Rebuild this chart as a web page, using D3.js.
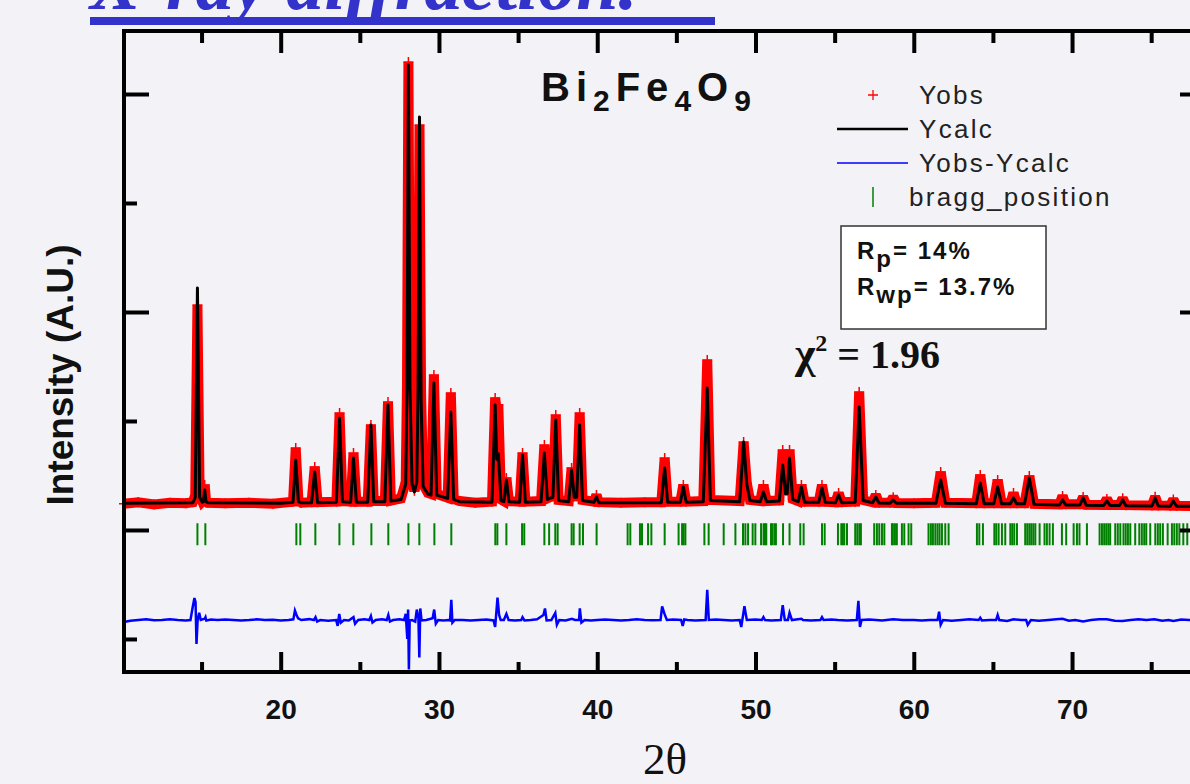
<!DOCTYPE html>
<html>
<head>
<meta charset="utf-8">
<script src="https://cdn.jsdelivr.net/npm/d3@7"></script>
<style>
  body { margin: 0; background: #f3f3f7; }
  svg { display: block; }
</style>
</head>
<body>
<div id="chart"></div>
<script>
// Bi2Fe4O9 Rietveld refinement
// intensities in counts, 2theta in degrees

const xMajorTicks = [20, 30, 40, 50, 60, 70];
const xMinorTicks = [15, 25, 35, 45, 55, 65, 75];
const yMajorTicks = [0, 2000, 4000];
const yMinorTicks = [-1000, 1000, 3000];

// observed profile (2theta, counts)
const yobs = [
  [10.1,240],[11,255],[12,235],[13,250],[14.0,245],[14.45,255],[14.6,320],[14.74,2064],[14.88,320],[15.05,260],[15.12,270],[15.2,413],[15.28,270],[15.4,250],
  [16.5,245],[18,250],[19.5,240],[20.78,260],[20.95,752],[21.12,270],[21.3,250],
  [21.95,255],[22.15,578],[22.33,255],
  [23.52,260],[23.72,1073],[23.9,265],
  [24.42,260],[24.6,706],[24.78,260],
  [25.5,260],[25.7,963],[25.88,265],
  [26.58,265],[26.78,1174],[26.96,270],
  [27.6,290],[27.9,440],[27.98,1350],[28.07,4294],[28.17,1350],[28.3,440],[28.45,360],[28.6,450],[28.68,1300],[28.77,3716],[28.87,1250],[29.0,420],[29.3,340],
  [29.5,330],[29.68,1422],[29.86,330],
  [30.55,295],[30.75,1257],[30.93,285],
  [31.3,265],[32.3,250],[33.35,260],[33.55,1211],[33.65,1100],[33.75,1150],[33.92,280],
  [34.1,265],[34.26,477],[34.42,265],
  [35.1,260],[35.28,706],[35.46,260],
  [36.45,265],[36.66,780],[36.85,290],[37.0,300],[37.2,310],[37.38,1055],[37.56,275],
  [38.2,265],[38.38,569],[38.55,310],[38.7,310],[38.89,1073],[39.07,275],
  [39.8,260],[39.95,321],[40.1,255],[41.5,250],[43,255],
  [44.05,255],[44.26,660],[44.45,260],
  [45.25,260],[45.44,413],[45.62,260],
  [46.7,265],[46.95,1560],[47.15,275],
  [49.0,265],[49.25,807],[49.45,430],[49.65,275],
  [50.3,265],[50.5,413],[50.7,265],
  [51.5,270],[51.72,734],[51.9,400],[52.0,400],[52.15,734],[52.35,285],
  [52.7,265],[52.9,413],[53.1,260],
  [54.0,260],[54.2,413],[54.4,260],
  [55.05,255],[55.25,339],[55.45,255],
  [56.3,260],[56.55,1266],[56.8,275],
  [57.4,255],[57.6,321],[57.8,250],
  [58.5,250],[58.7,300],[58.9,248],
  [60,245],[61.4,250],[61.7,532],[62.0,250],
  [63.95,245],[64.2,505],[64.45,245],
  [65.05,245],[65.3,459],[65.55,245],
  [66.1,245],[66.3,339],[66.5,245],
  [67.0,245],[67.3,495],[67.6,240],
  [69.2,235],[69.4,312],[69.6,235],
  [70.5,235],[70.7,303],[70.9,232],
  [72.0,230],[72.2,285],[72.4,230],
  [73.0,230],[73.2,290],[73.4,228],
  [75.05,225],[75.25,305],[75.45,225],
  [76.2,222],[76.4,280],[76.6,222],
  [78.4,220]
];

// calculated profile
const ycalc = [
  [10.1,245],[14.45,250],[14.6,300],[14.74,2220],[14.88,300],[15.05,255],[15.12,260],[15.2,367],[15.28,260],[15.4,250],
  [20.0,245],[20.78,255],[20.95,642],[21.12,260],[21.3,250],
  [21.95,250],[22.15,532],[22.33,250],
  [23.52,255],[23.72,1028],[23.9,260],
  [24.42,255],[24.6,660],[24.78,255],
  [25.5,255],[25.7,963],[25.88,260],
  [26.58,260],[26.78,1147],[26.96,265],
  [27.6,280],[27.9,420],[27.98,1300],[28.07,4266],[28.17,1300],[28.3,420],[28.45,349],[28.6,440],[28.68,1300],[28.77,3789],[28.87,1200],[29.0,400],[29.3,330],
  [29.5,320],[29.68,1349],[29.86,320],
  [30.55,290],[30.75,1083],[30.93,280],
  [31.3,260],[33.35,255],[33.55,1147],[33.65,650],[33.75,700],[33.92,270],
  [34.1,260],[34.26,459],[34.42,260],
  [35.1,255],[35.28,688],[35.46,255],
  [36.45,260],[36.66,706],[36.85,280],[37.0,290],[37.2,300],[37.38,1009],[37.56,270],
  [38.2,260],[38.38,550],[38.55,300],[38.7,300],[38.89,963],[39.07,270],
  [39.8,255],[39.95,303],[40.1,250],
  [44.05,250],[44.26,569],[44.45,255],
  [45.25,255],[45.44,394],[45.62,255],
  [46.7,260],[46.95,1303],[47.15,270],
  [49.0,260],[49.25,807],[49.45,420],[49.65,270],
  [50.3,260],[50.5,349],[50.7,260],
  [51.5,265],[51.72,596],[51.9,330],[52.0,330],[52.15,660],[52.35,280],
  [52.7,260],[52.9,394],[53.1,255],
  [54.0,255],[54.2,385],[54.4,255],
  [55.05,250],[55.25,321],[55.45,250],
  [56.3,255],[56.55,1128],[56.8,270],
  [57.4,250],[57.6,303],[57.8,248],
  [58.5,245],[58.7,275],[58.9,245],
  [61.4,245],[61.7,459],[62.0,245],
  [63.95,240],[64.2,431],[64.45,240],
  [65.05,240],[65.3,394],[65.55,240],
  [66.1,240],[66.3,294],[66.5,240],
  [67.0,240],[67.3,477],[67.6,235],
  [69.2,230],[69.4,275],[69.6,230],
  [70.5,230],[70.7,294],[70.9,228],
  [72.0,225],[72.2,266],[72.4,225],
  [73.0,225],[73.2,275],[73.4,222],
  [75.05,220],[75.25,294],[75.45,220],
  [76.2,218],[76.4,266],[76.6,218],
  [78.4,215]
];

// difference curve, plotted with its offset
const ydiff = [
  [10.1,-845],[10.5,-832],[11,-826],[11.5,-820],[12,-828],[12.5,-826],[13,-818],[13.5,-826],[14.0,-830],[14.3,-826],
  [14.45,-700],[14.55,-625],[14.62,-660],[14.68,-1045],[14.75,-830],[14.85,-760],[14.95,-826],[15.2,-815],[15.25,-800],[15.3,-830],
  [15.6,-822],[16,-826],[16.5,-822],[17,-826],[17.5,-830],[18,-826],[18.5,-820],[19,-826],[19.5,-824],[20,-830],[20.5,-826],
  [20.8,-820],[20.9,-740],[21.0,-780],[21.1,-810],[21.3,-826],[21.8,-818],[22.1,-826],[22.2,-800],[22.3,-840],[22.5,-826],
  [23.0,-832],[23.5,-826],[23.6,-880],[23.7,-770],[23.8,-850],[24.0,-826],[24.3,-830],[24.6,-800],[24.7,-860],[24.9,-826],
  [25.3,-820],[25.6,-826],[25.7,-790],[25.8,-850],[26.0,-826],[26.4,-820],[26.7,-826],[26.8,-780],[26.9,-840],[27.1,-826],
  [27.5,-820],[27.8,-826],[27.9,-770],[28.0,-1000],[28.05,-730],[28.1,-1280],[28.15,-830],[28.3,-826],[28.5,-840],[28.6,-730],
  [28.7,-800],[28.76,-1170],[28.82,-720],[28.9,-830],[29.2,-826],[29.6,-810],[29.7,-730],[29.8,-860],[29.95,-826],[30.3,-830],
  [30.6,-826],[30.7,-830],[30.78,-640],[30.85,-850],[31.0,-826],[31.5,-826],[32,-830],[32.5,-826],[33,-822],[33.45,-830],
  [33.55,-890],[33.7,-620],[33.8,-780],[33.9,-826],[34.1,-826],[34.26,-770],[34.4,-826],[34.8,-830],[35.2,-826],[35.28,-800],
  [35.4,-830],[35.8,-826],[36.2,-820],[36.6,-780],[36.7,-720],[36.8,-830],[37.1,-826],[37.35,-760],[37.45,-870],[37.6,-826],
  [38.0,-830],[38.4,-815],[38.6,-826],[38.85,-826],[38.9,-720],[39.0,-850],[39.2,-826],[39.6,-830],[40,-826],[40.5,-822],
  [41,-826],[41.5,-830],[42,-826],[42.5,-820],[43,-826],[43.5,-828],[44.0,-826],[44.1,-700],[44.25,-770],[44.4,-826],
  [44.8,-822],[45.3,-826],[45.4,-880],[45.5,-820],[45.7,-826],[46.2,-830],[46.85,-826],[46.95,-550],[47.05,-826],[47.5,-822],
  [48,-826],[48.5,-830],[49.0,-826],[49.1,-890],[49.3,-700],[49.45,-826],[50.0,-822],[50.4,-826],[50.5,-800],[50.6,-826],
  [51.0,-830],[51.6,-826],[51.72,-690],[51.85,-826],[52.05,-826],[52.15,-760],[52.3,-826],[52.9,-815],[53.0,-826],[53.5,-830],
  [54.1,-826],[54.2,-800],[54.3,-826],[54.8,-822],[55.2,-826],[55.8,-830],[56.4,-826],[56.5,-650],[56.6,-890],[56.7,-826],
  [57.2,-822],[57.6,-826],[58,-830],[58.7,-820],[59.3,-826],[60,-826],[60.5,-830],[61.0,-826],[61.5,-826],[61.6,-750],
  [61.7,-870],[61.85,-826],[62.4,-832],[63,-826],[63.5,-820],[64.1,-826],[64.2,-805],[64.3,-830],[64.8,-826],[65.2,-826],
  [65.3,-780],[65.4,-826],[65.9,-834],[66.3,-820],[66.8,-826],[67.1,-826],[67.2,-870],[67.4,-826],[67.9,-832],[68.5,-826],
  [69.0,-820],[69.4,-815],[69.8,-832],[70.2,-826],[70.7,-840],[71.2,-826],[71.7,-818],[72.2,-820],[72.7,-832],[73.2,-835],
  [73.7,-826],[74.2,-820],[74.7,-826],[75.2,-820],[75.7,-832],[76.1,-826],[76.4,-835],[76.9,-822],[77.4,-826],[78.0,-830],[78.4,-826]
];

// bragg reflections (2theta)
const braggPos = [14.74, 15.24, 20.99, 21.24, 22.19, 23.71, 24.59, 25.73, 26.80, 28.07, 28.76, 29.71, 30.78,
  33.56, 33.69, 34.26, 35.25, 35.39, 36.66, 36.96, 37.35, 37.50, 38.38, 38.51, 38.89, 39.10, 39.96,
  41.92, 42.09, 42.70, 42.83, 43.21, 43.42, 44.26, 45.14, 45.36, 45.46, 45.57, 46.77, 47.04, 47.99,
  48.73, 49.21, 49.36, 49.53, 49.82, 49.99, 50.35, 50.51, 50.60, 50.68, 50.98, 51.06, 51.19, 51.29,
  51.74, 52.15, 52.83, 53.04, 54.20, 54.37, 55.21, 55.42, 55.52, 55.61, 55.78, 56.30, 56.43, 56.56,
  56.66, 57.50, 57.67, 57.82, 57.99, 58.14, 58.62, 58.68, 58.81, 58.93, 59.25, 59.40, 59.67, 59.84,
  60.93, 61.08, 61.21, 61.36, 61.50, 61.63, 61.78, 61.99, 62.20, 63.99, 64.14, 64.37, 65.09, 65.21,
  65.36, 65.57, 65.78, 66.10, 66.22, 66.35, 66.52, 67.04, 67.17, 67.30, 67.42, 67.55, 67.68, 67.95,
  68.26, 68.41, 68.58, 68.79, 69.36, 69.63, 70.10, 70.31, 70.47, 70.94, 71.74, 71.89, 72.03, 72.16,
  72.29, 72.41, 72.73, 72.89, 73.05, 73.25, 73.39, 73.53, 73.68, 73.99, 74.25, 74.41, 74.56, 74.69,
  74.94, 75.26, 75.42, 75.57, 75.74, 76.04, 76.31, 76.46, 76.62, 76.78, 77.03, 77.28, 77.55, 77.80, 78.10];

const braggLevel = -30;   // row of the reflection markers
const legendLabels = ['Yobs', 'Ycalc', 'Yobs-Ycalc', 'bragg_position'];
const fitLabels = [['R', 'p', '= 14%'], ['R', 'wp', '= 13.7%']];
const chiSquared = '1.96';

const width = 1190, height = 784;
const frame = { left: 124, right: 1205, top: 31, bottom: 672 };

const svg = d3.select('#chart').append('svg')
    .attr('width', width)
    .attr('height', height);

svg.append('rect').attr('width', width).attr('height', height).attr('fill', '#f3f3f7');

const x = d3.scaleLinear().domain([10.1, 78.4]).range([frame.left, frame.right]);
const y = d3.scaleLinear().domain([-1303, 4578]).range([frame.bottom, frame.top]);

// slide title, cut by the top edge as on the slide
svg.append('text')
    .attr('x', 90).attr('y', 9)
    .attr('font-family', '"Liberation Serif", "DejaVu Serif", serif')
    .attr('font-weight', 'bold').attr('font-style', 'italic')
    .attr('font-size', 76).attr('fill', '#3333cc')
    .text('X-ray diffraction.');
svg.append('rect').attr('x', 90).attr('y', 17).attr('width', 625).attr('height', 8).attr('fill', '#3333cc');

// curves
const line = d3.line().x(d => x(d[0])).y(d => y(d[1]));

svg.append('path').datum(yobs)
    .attr('fill', 'none').attr('stroke', '#ff0000')
    .attr('stroke-width', 10).attr('stroke-linejoin', 'miter').attr('stroke-miterlimit', 2)
    .attr('d', line);

svg.append('g').selectAll('path')
    .data(yobs)
    .join('path')
    .attr('transform', d => `translate(${x(d[0])},${y(d[1])})`)
    .attr('d', 'M-5,0H5M0,-5V5')
    .attr('stroke', '#ff0000').attr('stroke-width', 1.5);

svg.append('path').datum(ycalc)
    .attr('fill', 'none').attr('stroke', '#000')
    .attr('stroke-width', 3).attr('stroke-linejoin', 'round')
    .attr('d', line);

svg.append('g').selectAll('line')
    .data(braggPos)
    .join('line')
    .attr('x1', d => x(d)).attr('x2', d => x(d))
    .attr('y1', y(braggLevel) - 10).attr('y2', y(braggLevel) + 12)
    .attr('stroke', '#008000').attr('stroke-width', 2);

svg.append('path').datum(ydiff)
    .attr('fill', 'none').attr('stroke', '#0000ff')
    .attr('stroke-width', 2.5)
    .attr('d', line);

// axes, ticks pointing inward
const fontSans = '"Liberation Sans", Arial, sans-serif';

function styleAxis(g, w) {
    g.select('.domain').remove();
    g.selectAll('line').attr('stroke', '#000').attr('stroke-width', w);
}

svg.append('g').attr('transform', `translate(0,${frame.bottom})`)
    .call(d3.axisBottom(x).tickValues(xMajorTicks).tickSizeInner(-20).tickSizeOuter(0).tickPadding(27))
    .call(g => styleAxis(g, 4))
    .call(g => g.selectAll('text').attr('font-family', fontSans).attr('font-weight', 'bold')
        .attr('font-size', 28).attr('fill', '#111'));
svg.append('g').attr('transform', `translate(0,${frame.bottom})`)
    .call(d3.axisBottom(x).tickValues(xMinorTicks).tickSizeInner(-10).tickSizeOuter(0).tickFormat(''))
    .call(g => styleAxis(g, 4));
svg.append('g').attr('transform', `translate(0,${frame.top})`)
    .call(d3.axisTop(x).tickValues(xMajorTicks).tickSizeInner(-22).tickSizeOuter(0).tickFormat(''))
    .call(g => styleAxis(g, 4));
svg.append('g').attr('transform', `translate(0,${frame.top})`)
    .call(d3.axisTop(x).tickValues(xMinorTicks).tickSizeInner(-12).tickSizeOuter(0).tickFormat(''))
    .call(g => styleAxis(g, 4));
svg.append('g').attr('transform', `translate(${frame.left},0)`)
    .call(d3.axisLeft(y).tickValues(yMajorTicks).tickSizeInner(-25).tickSizeOuter(0).tickFormat(''))
    .call(g => styleAxis(g, 4));
svg.append('g').attr('transform', `translate(${frame.left},0)`)
    .call(d3.axisLeft(y).tickValues(yMinorTicks).tickSizeInner(-13).tickSizeOuter(0).tickFormat(''))
    .call(g => styleAxis(g, 4));
svg.append('g').attr('transform', `translate(${frame.right},0)`)
    .call(d3.axisRight(y).tickValues(yMajorTicks).tickSizeInner(-25).tickSizeOuter(0).tickFormat(''))
    .call(g => styleAxis(g, 4));
svg.append('g').attr('transform', `translate(${frame.right},0)`)
    .call(d3.axisRight(y).tickValues(yMinorTicks).tickSizeInner(-13).tickSizeOuter(0).tickFormat(''))
    .call(g => styleAxis(g, 4));

svg.append('rect')
    .attr('x', frame.left).attr('y', frame.top)
    .attr('width', frame.right - frame.left).attr('height', frame.bottom - frame.top)
    .attr('fill', 'none').attr('stroke', '#000').attr('stroke-width', 4);

// axis titles
svg.append('text')
    .attr('x', 665).attr('y', 774).attr('text-anchor', 'middle')
    .attr('font-family', '"Liberation Serif", serif').attr('font-size', 45).attr('fill', '#111')
    .text('2θ');

svg.append('text')
    .attr('transform', 'translate(73,375) rotate(-90)')
    .attr('text-anchor', 'middle')
    .attr('font-family', fontSans).attr('font-weight', 'bold').attr('font-size', 37).attr('fill', '#111')
    .text('Intensity (A.U.)');

// compound name
const title = svg.append('text')
    .attr('x', 541).attr('y', 101)
    .attr('font-family', fontSans).attr('font-weight', 'bold').attr('font-size', 40)
    .attr('letter-spacing', 6).attr('fill', '#111');
[['Bi', 0], ['2', 10], ['Fe', -10], ['4', 10], ['O', -10], ['9', 10]].forEach(([t, dy], i) => {
    title.append('tspan').attr('dy', dy).attr('font-size', i % 2 ? 30 : 40).text(t);
});

// legend
const legend = svg.append('g').attr('font-family', fontSans).attr('font-size', 26)
    .attr('letter-spacing', 2.3).attr('fill', '#222');
const legendY = [95, 129, 163, 197];
legend.append('path').attr('d', `M${868},${legendY[0]}H${878}M${873},${legendY[0] - 5}V${legendY[0] + 5}`)
    .attr('stroke', '#ff0000').attr('stroke-width', 1.3);
legend.append('line').attr('x1', 837).attr('x2', 908).attr('y1', legendY[1]).attr('y2', legendY[1])
    .attr('stroke', '#000').attr('stroke-width', 2.5);
legend.append('line').attr('x1', 837).attr('x2', 908).attr('y1', legendY[2]).attr('y2', legendY[2])
    .attr('stroke', '#0000ff').attr('stroke-width', 1.5);
legend.append('line').attr('x1', 873).attr('x2', 873).attr('y1', legendY[3] - 10).attr('y2', legendY[3] + 10)
    .attr('stroke', '#008000').attr('stroke-width', 1.5);
legend.selectAll('text')
    .data(legendLabels)
    .join('text')
    .attr('x', (d, i) => i === 3 ? 909 : 919)
    .attr('y', (d, i) => legendY[i] + 9)
    .text(d => d);

// agreement factors
svg.append('rect').attr('x', 841).attr('y', 226).attr('width', 205).attr('height', 103)
    .attr('fill', '#fff').attr('stroke', '#333').attr('stroke-width', 1.5);
fitLabels.forEach(([r, sub, rest], i) => {
    const t = svg.append('text')
        .attr('x', 857).attr('y', 259 + i * 36)
        .attr('font-family', fontSans).attr('font-weight', 'bold').attr('font-size', 24)
        .attr('letter-spacing', 2).attr('fill', '#111');
    t.append('tspan').text(r);
    t.append('tspan').attr('dy', 8).text(sub);
    t.append('tspan').attr('dy', -8).text(rest);
});

const chi = svg.append('text')
    .attr('x', 795).attr('y', 368)
    .attr('font-family', '"Liberation Serif", serif').attr('font-weight', 'bold').attr('font-size', 40)
    .attr('fill', '#111');
chi.append('tspan').attr('font-size', 44).text('χ');
chi.append('tspan').attr('dy', -17).attr('font-size', 24).text('2');
chi.append('tspan').attr('dy', 17).text(' = ' + chiSquared);
</script>
</body>
</html>
